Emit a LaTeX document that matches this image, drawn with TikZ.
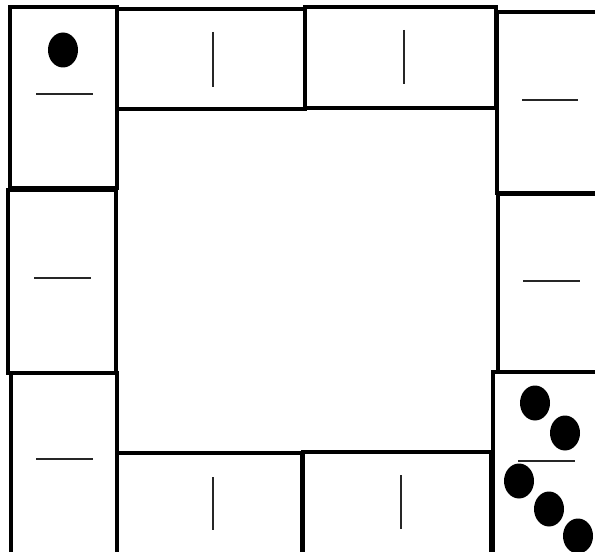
\documentclass[tikz,border=0pt]{standalone}
\begin{document}
\begin{tikzpicture}[x=0.75pt,y=-0.75pt,
  tile/.style={draw=black,line width=2.3pt,fill=white},
  pip/.style={fill=black},
  bar/.style={draw=black!85,line width=1pt}]
\useasboundingbox (0,0) rectangle (595,552);
\clip (0,0) rectangle (595,552);
\fill[white] (0,0) rectangle (595,552);
% top-left domino
\draw[tile] (10,7) rectangle (117,188);
\fill[pip] (63,50) ellipse [x radius=15, y radius=17.5];
\draw[bar] (36,94) -- (93,94);
% top row
\draw[tile] (117,9) rectangle (305,109);
\draw[bar] (213,32) -- (213,87);
\draw[tile] (305,7) rectangle (496,108);
\draw[bar] (404,30) -- (404,84);
% top-right
\draw[tile] (497,12) rectangle (610,193);
\draw[bar] (522,100) -- (578,100);
% left column
\draw[tile] (8,190) rectangle (116,373);
\draw[bar] (34,278) -- (91,278);
\draw[tile] (11,373) rectangle (117,570);
\draw[bar] (36,459) -- (93,459);
% bottom row
\draw[tile] (117,453) rectangle (302,570);
\draw[bar] (213,477) -- (213,530);
\draw[tile] (303,452) rectangle (491,570);
\draw[bar] (401,475) -- (401,529);
% right middle
\draw[tile] (498,194) rectangle (610,373);
\draw[bar] (523,281) -- (580,281);
% bottom-right
\draw[tile] (493,372) rectangle (610,570);
\fill[pip] (535,403) ellipse [x radius=15, y radius=17.5];
\fill[pip] (565,433) ellipse [x radius=15, y radius=17.5];
\draw[bar] (518,461) -- (575,461);
\fill[pip] (519,481) ellipse [x radius=15, y radius=17.5];
\fill[pip] (549,509) ellipse [x radius=15, y radius=17.5];
\fill[pip] (578,536) ellipse [x radius=15, y radius=17.5];
\end{tikzpicture}
\end{document}
